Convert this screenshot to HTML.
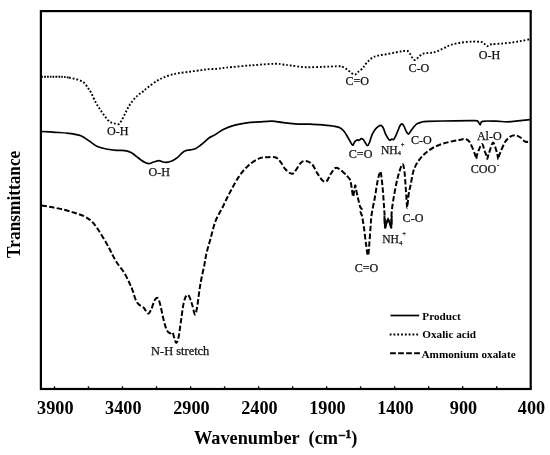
<!DOCTYPE html>
<html><head><meta charset="utf-8"><style>
html,body{margin:0;padding:0;background:#fff;}
svg{display:block;will-change:transform;font-family:"Liberation Serif",serif;}
.ax text{font-weight:bold;font-size:18.2px;text-anchor:middle;fill:#000;}
.lb text{font-size:12.1px;text-anchor:middle;fill:#111;stroke:#111;stroke-width:0.25px;}
.lb text.s{text-anchor:start;}
.lg text{font-weight:bold;font-size:11.2px;fill:#000;}
</style></head><body>
<svg width="550" height="455" viewBox="0 0 550 455">
<rect width="550" height="455" fill="#fff"/>
<g fill="none" stroke="#000" stroke-linejoin="round">
<path d="M41.5 76.8C42.9 76.8 46.6 76.7 50.0 76.7C53.4 76.7 58.8 76.7 62.0 76.8C65.2 76.9 67.8 77.4 69.0 77.5" stroke-width="1.9" stroke-dasharray="1.7 1.1"/>
<path d="M69.0 77.5C70.5 77.9 75.2 78.8 77.8 79.7C80.4 80.6 82.6 81.4 84.4 83.0C86.2 84.6 87.6 87.5 88.7 89.1C89.8 90.6 89.7 90.1 90.9 92.3C92.1 94.5 94.2 99.7 95.7 102.4C97.2 105.1 98.3 106.6 99.7 108.7C101.1 110.8 102.5 113.1 104.0 115.1C105.5 117.1 107.2 119.5 108.5 120.7C109.8 122.0 110.5 122.1 111.6 122.6C112.7 123.1 114.1 123.3 115.3 123.6C116.5 123.8 117.8 124.5 118.8 124.1C119.8 123.7 120.1 122.9 121.1 121.3C122.1 119.7 123.6 116.5 124.8 114.2C126.0 111.9 126.9 109.6 128.2 107.4C129.5 105.2 131.0 102.8 132.6 100.8C134.2 98.8 135.8 97.2 137.5 95.6C139.2 94.0 141.2 92.9 143.0 91.4C144.8 90.0 146.1 88.7 148.4 86.9C150.7 85.1 154.5 82.3 157.0 80.8C159.5 79.2 161.1 78.6 163.3 77.6C165.6 76.6 168.0 75.7 170.5 75.0C173.0 74.3 174.9 73.8 178.1 73.3C181.3 72.8 186.0 72.2 189.9 71.7C193.8 71.2 198.2 70.5 201.5 70.1C204.8 69.7 206.7 69.3 209.4 69.1C212.1 68.9 214.7 69.0 217.5 68.8C220.3 68.5 220.6 68.2 226.3 67.6C232.0 67.0 243.7 65.9 251.8 65.3C259.9 64.7 269.6 63.9 274.7 63.8C279.8 63.7 280.0 64.2 282.7 64.5C285.4 64.8 286.9 65.0 290.7 65.5C294.5 66.0 300.1 67.0 305.7 67.2C311.3 67.4 318.6 67.0 324.2 66.8C329.8 66.6 336.4 66.2 339.5 66.2C342.6 66.2 341.6 66.5 342.7 66.9C343.8 67.3 345.0 68.1 346.0 68.8C347.0 69.5 347.9 70.3 348.9 71.0C349.9 71.7 350.8 72.6 351.8 73.2C352.8 73.8 354.0 74.8 355.0 74.6C356.0 74.4 356.7 73.0 357.6 72.3C358.5 71.5 359.5 70.9 360.5 70.1C361.5 69.3 362.9 68.3 363.5 67.6C364.1 66.9 363.3 67.2 364.1 66.1C364.9 65.0 366.7 62.7 368.2 61.2C369.7 59.7 371.2 58.3 373.1 57.3C375.0 56.3 377.2 55.8 379.6 55.2C382.1 54.7 385.1 54.5 387.8 54.0C390.5 53.5 393.5 52.9 396.0 52.4C398.5 51.9 400.7 51.3 402.6 51.1C404.5 50.9 406.3 50.5 407.5 51.0C408.7 51.5 409.2 52.6 410.0 53.8C410.8 54.9 411.6 56.9 412.4 57.9C413.2 58.9 413.9 60.0 414.8 60.0C415.8 60.0 416.9 58.6 418.1 57.6C419.3 56.6 420.7 54.8 422.2 54.0C423.7 53.2 425.5 53.3 427.1 53.1C428.7 52.9 430.4 53.0 432.0 52.7C433.6 52.4 435.0 52.1 436.9 51.4C438.8 50.7 441.2 49.4 443.5 48.3C445.8 47.2 447.8 45.9 450.9 44.9C453.9 43.9 458.2 43.0 461.8 42.5C465.4 42.0 469.5 41.7 472.7 41.6C475.9 41.5 479.0 41.6 480.9 41.9C482.8 42.2 483.0 42.7 484.0 43.4C485.0 44.1 486.1 45.9 486.9 46.2C487.7 46.5 488.2 45.3 489.0 45.0C489.8 44.7 489.7 44.4 491.8 44.2C493.9 44.0 498.3 43.9 501.8 43.6C505.3 43.3 509.4 42.9 512.7 42.4C516.0 41.9 518.9 41.4 521.8 40.9C524.7 40.4 528.6 39.5 530.0 39.2" stroke-width="1.9" stroke-dasharray="1.8 1.95"/>
<path d="M41.5 131.5C43.8 131.6 50.9 132.0 55.4 132.3C59.9 132.6 64.0 132.7 68.2 133.3C72.5 133.9 77.3 134.5 80.9 135.8C84.5 137.2 87.0 139.6 89.8 141.4C92.5 143.2 94.7 145.2 97.4 146.5C100.2 147.8 103.1 148.4 106.3 149.0C109.5 149.6 114.2 150.1 116.5 150.3C118.8 150.5 118.3 150.3 120.0 150.4C121.7 150.5 124.6 150.5 126.5 150.9C128.4 151.3 129.8 151.9 131.5 152.8C133.2 153.7 134.8 155.2 136.4 156.4C138.0 157.6 139.7 159.1 141.3 160.2C142.9 161.3 144.8 162.4 146.2 163.0C147.6 163.6 148.1 163.7 149.5 163.5C150.9 163.3 152.8 162.3 154.4 161.8C156.0 161.3 157.4 160.7 158.8 160.7C160.2 160.7 161.3 161.5 162.6 161.8C163.9 162.1 165.0 162.5 166.6 162.3C168.2 162.1 170.6 161.5 172.4 160.7C174.2 159.9 175.7 159.0 177.3 157.7C178.9 156.4 180.8 154.0 182.2 152.8C183.6 151.6 184.1 151.2 185.5 150.7C186.9 150.2 188.8 150.2 190.4 149.9C192.0 149.6 193.7 149.4 195.3 148.7C196.9 148.0 198.6 146.7 200.2 145.5C201.8 144.3 203.5 142.8 205.1 141.4C206.7 140.0 208.6 138.3 210.0 137.3C211.4 136.3 211.3 136.9 213.6 135.6C215.9 134.3 220.4 131.0 223.8 129.3C227.2 127.6 230.2 126.5 234.0 125.4C237.8 124.3 242.5 123.5 246.7 122.9C250.9 122.3 255.2 122.2 259.4 121.9C263.6 121.6 268.3 121.0 272.1 121.1C275.9 121.2 278.5 122.0 282.3 122.4C286.1 122.9 290.4 123.5 295.0 123.8C299.6 124.1 305.4 124.0 310.0 124.2C314.6 124.4 318.5 124.5 322.7 124.9C326.9 125.3 332.1 125.9 335.0 126.4C337.9 126.9 338.4 126.9 339.9 127.7C341.4 128.5 342.6 129.6 344.0 131.3C345.4 133.0 346.9 135.8 348.1 137.8C349.3 139.9 350.6 142.4 351.4 143.6C352.2 144.8 352.5 145.5 353.0 145.2C353.5 144.9 353.9 142.8 354.6 141.9C355.3 141.0 356.3 140.3 357.1 140.0C357.9 139.7 358.5 140.5 359.2 140.3C359.9 140.1 360.5 138.7 361.2 138.6C361.9 138.5 362.5 138.8 363.2 139.5C363.9 140.2 364.6 141.7 365.3 142.7C366.0 143.7 366.7 145.7 367.4 145.7C368.1 145.7 368.7 144.4 369.4 142.7C370.1 141.0 370.9 137.6 371.8 135.4C372.8 133.2 374.0 131.1 375.1 129.6C376.2 128.1 377.4 127.1 378.4 126.4C379.4 125.7 380.5 125.2 381.3 125.5C382.1 125.8 382.6 126.6 383.3 128.0C384.0 129.4 384.7 132.1 385.4 133.7C386.1 135.3 387.0 136.7 387.7 137.8C388.4 138.9 389.1 140.1 389.8 140.3C390.5 140.5 391.2 139.2 391.8 139.1C392.4 139.0 393.0 140.0 393.6 139.5C394.2 139.0 394.9 137.7 395.6 136.2C396.3 134.7 397.2 132.3 398.0 130.5C398.8 128.7 399.4 126.6 400.1 125.5C400.8 124.4 401.4 123.8 402.1 123.9C402.8 124.1 403.4 125.2 404.1 126.4C404.8 127.6 405.5 130.0 406.2 131.3C406.9 132.6 407.6 134.2 408.3 134.2C409.0 134.2 409.7 132.5 410.6 131.3C411.5 130.1 412.6 128.4 413.6 127.2C414.6 126.0 415.6 124.7 416.8 123.9C418.0 123.1 419.1 122.7 420.9 122.3C422.6 121.9 421.7 121.7 427.3 121.4C432.9 121.2 446.6 120.9 454.5 120.8C462.4 120.7 471.1 120.6 475.0 120.7C478.9 120.8 477.1 120.8 478.0 121.5C478.9 122.2 479.4 124.8 480.2 124.8C480.9 124.8 479.9 121.9 482.5 121.3C485.1 120.7 491.9 121.1 496.0 121.2C500.1 121.3 503.3 121.8 507.0 121.8C510.7 121.8 514.2 121.3 518.0 120.9C521.8 120.5 528.0 119.8 530.0 119.6" stroke-width="1.7"/>
<path d="M41.5 205.5C43.3 205.8 48.7 206.6 52.5 207.3C56.3 208.0 60.6 208.9 64.2 209.8C67.9 210.7 71.0 211.6 74.4 212.7C77.8 213.8 81.6 214.9 84.5 216.4C87.4 217.9 89.6 219.4 91.8 221.5C94.0 223.6 95.6 225.9 97.6 228.7C99.5 231.5 101.5 234.9 103.5 238.2C105.5 241.5 107.7 245.5 109.3 248.4C110.9 251.3 111.5 253.0 112.9 255.6C114.3 258.2 115.9 261.2 117.8 264.0C119.7 266.8 122.2 269.4 124.1 272.5C126.0 275.6 127.8 279.6 129.2 282.5C130.6 285.4 131.3 286.9 132.4 289.8C133.5 292.7 134.5 297.2 135.6 299.6C136.7 302.1 137.5 303.1 138.9 304.5C140.3 305.9 142.3 306.3 143.8 307.8C145.3 309.3 146.7 313.3 147.9 313.6C149.1 313.9 150.1 311.7 151.2 309.5C152.3 307.3 153.4 302.4 154.5 300.5C155.6 298.6 156.8 297.3 157.7 298.0C158.6 298.7 159.2 300.9 160.2 304.5C161.2 308.1 162.4 315.1 163.5 319.3C164.6 323.5 165.6 327.6 166.7 329.9C167.8 332.2 169.0 332.8 170.0 333.2C171.0 333.6 171.8 331.7 172.5 332.4C173.2 333.1 173.5 335.5 174.1 337.3C174.7 339.1 175.4 343.0 176.2 343.0C176.9 343.0 177.8 341.2 178.6 337.3C179.4 333.4 180.3 325.0 181.2 319.3C182.0 313.6 182.8 306.9 183.7 302.9C184.6 298.9 185.5 296.6 186.4 295.5C187.3 294.4 188.2 294.9 189.2 296.4C190.1 297.9 191.1 301.5 192.1 304.5C193.1 307.5 194.1 313.8 194.9 314.4C195.7 314.9 196.2 311.9 197.0 307.8C197.8 303.7 198.8 294.6 199.5 289.8C200.2 285.0 200.5 283.3 201.3 279.2C202.1 275.1 203.4 269.5 204.3 265.2C205.2 260.9 205.5 257.5 206.5 253.2C207.5 248.9 208.9 244.5 210.4 239.2C211.9 233.9 213.3 226.9 215.4 221.4C217.5 215.9 220.6 211.3 223.1 206.2C225.6 201.1 227.9 196.0 230.7 190.9C233.4 185.8 236.6 179.8 239.6 175.6C242.6 171.3 245.3 168.2 248.5 165.4C251.7 162.6 255.7 159.9 258.7 158.6C261.7 157.2 263.6 157.5 266.3 157.3C269.1 157.1 272.9 156.6 275.2 157.3C277.5 158.0 278.6 159.6 280.3 161.6C282.0 163.6 283.5 167.3 285.4 169.3C287.3 171.3 290.1 173.6 291.8 173.8C293.5 174.0 294.1 172.3 295.6 170.5C297.1 168.7 299.0 164.5 300.7 162.9C302.4 161.3 303.9 160.7 305.8 160.9C307.7 161.1 310.2 162.2 312.1 164.2C314.0 166.2 315.5 170.4 317.2 173.1C318.9 175.8 320.8 178.8 322.3 180.2C323.9 181.6 325.1 182.3 326.5 181.4C327.9 180.5 328.9 176.7 330.4 174.5C331.9 172.3 333.8 168.8 335.4 168.0C337.0 167.2 338.5 168.6 340.0 169.5C341.5 170.4 343.2 172.2 344.4 173.3C345.6 174.4 346.1 175.0 347.0 176.0C347.9 177.0 349.2 178.1 349.8 179.3C350.4 180.5 350.5 181.3 350.9 183.1C351.3 184.9 351.6 187.7 352.0 190.0C352.4 192.3 352.7 196.5 353.1 196.7C353.5 196.9 353.8 192.9 354.2 191.0C354.6 189.1 354.9 185.1 355.3 185.3C355.7 185.5 356.2 189.8 356.6 192.0C357.1 194.2 357.6 196.6 358.0 198.4C358.4 200.2 358.7 201.3 359.1 202.7C359.5 204.1 359.7 205.8 360.2 207.0C360.7 208.2 362.1 209.0 362.2 209.8C362.3 210.6 360.6 211.0 360.6 212.0C360.6 213.0 361.4 213.3 362.0 216.0C362.6 218.7 363.3 223.3 364.0 228.0C364.7 232.7 365.3 239.4 366.0 244.0C366.7 248.6 367.4 255.5 368.0 255.5C368.6 255.5 368.9 248.6 369.3 244.0C369.7 239.4 370.1 232.9 370.5 228.0C370.9 223.1 370.9 219.8 371.6 214.7C372.3 209.6 373.9 202.9 374.9 197.3C375.9 191.7 376.8 185.0 377.6 180.9C378.4 176.8 379.3 174.2 379.8 172.7C380.3 171.2 380.3 171.2 380.6 171.8C380.9 172.4 381.1 174.1 381.4 176.5C381.7 178.9 382.1 182.4 382.5 186.4C382.9 190.4 383.3 196.0 383.6 200.5C383.9 205.0 384.3 209.1 384.5 213.6C384.7 218.1 384.7 225.8 385.0 227.4C385.3 229.0 386.0 224.4 386.5 223.0C387.0 221.6 387.6 219.2 388.1 219.2C388.7 219.2 389.2 221.6 389.8 223.0C390.4 224.4 391.1 229.0 391.4 227.4C391.7 225.8 391.3 218.3 391.6 213.6C391.9 208.9 392.6 204.3 393.4 199.4C394.2 194.5 395.3 188.5 396.2 184.2C397.1 179.8 397.9 176.6 398.9 173.3C399.9 170.0 401.5 164.6 402.4 164.2C403.3 163.8 403.9 167.4 404.4 171.0C404.9 174.6 405.2 181.2 405.6 186.0C406.0 190.8 406.3 196.4 406.6 200.0C406.9 203.6 406.9 208.5 407.2 207.5C407.5 206.5 408.1 197.9 408.7 194.0C409.3 190.1 410.2 187.4 410.9 183.8C411.6 180.2 412.2 175.3 413.1 172.2C414.0 169.0 414.8 167.2 416.0 164.9C417.2 162.6 418.7 160.5 420.4 158.4C422.1 156.3 424.0 154.3 426.2 152.5C428.4 150.7 430.8 148.9 433.5 147.5C436.2 146.1 439.3 144.8 442.2 143.8C445.1 142.8 448.0 142.2 450.9 141.6C453.8 140.9 457.2 140.3 459.6 139.9C462.0 139.5 463.6 138.8 465.2 139.1C466.8 139.4 468.2 140.0 469.5 141.8C470.8 143.6 472.2 147.6 473.2 149.8C474.1 152.0 474.7 153.5 475.2 155.0C475.7 156.5 475.8 158.8 476.1 158.8C476.4 158.8 476.6 156.2 477.0 155.0C477.4 153.8 477.5 153.1 478.3 151.3C479.1 149.5 480.8 144.0 481.9 144.0C483.0 144.0 484.1 149.4 484.8 151.3C485.6 153.2 486.0 154.2 486.4 155.5C486.8 156.8 487.0 158.9 487.3 158.9C487.6 158.9 487.8 156.8 488.2 155.5C488.6 154.2 488.8 153.5 489.6 151.3C490.4 149.1 492.0 142.5 493.1 142.5C494.2 142.5 495.8 149.1 496.5 151.3C497.2 153.5 497.3 154.2 497.6 155.5C497.9 156.8 498.0 159.3 498.3 159.3C498.6 159.3 498.8 156.8 499.2 155.5C499.6 154.2 499.8 153.6 500.8 151.3C501.8 149.0 503.6 144.2 505.2 141.8C506.8 139.4 508.6 137.8 510.3 136.7C512.0 135.6 513.7 135.2 515.4 135.3C517.1 135.4 518.9 136.5 520.5 137.5C522.1 138.5 523.2 140.7 524.8 141.5C526.4 142.3 529.1 142.0 530.0 142.1" stroke-width="2" stroke-dasharray="5.4 2.3"/>
<path d="M384.4 216 L385 226.8 L388.1 219.4 L391.3 226.8 L391.7 216" stroke-width="1.9" stroke-linejoin="miter"/>
</g>
<rect x="40.9" y="11.1" width="489.8" height="377.9" fill="none" stroke="#000" stroke-width="2.2"/>
<g stroke="#000" stroke-width="1.4"><line x1="54.5" y1="389.0" x2="54.5" y2="386.3"/><line x1="88.5" y1="389.0" x2="88.5" y2="386.3"/><line x1="122.5" y1="389.0" x2="122.5" y2="386.3"/><line x1="156.5" y1="389.0" x2="156.5" y2="386.3"/><line x1="190.6" y1="389.0" x2="190.6" y2="386.3"/><line x1="224.6" y1="389.0" x2="224.6" y2="386.3"/><line x1="258.6" y1="389.0" x2="258.6" y2="386.3"/><line x1="292.6" y1="389.0" x2="292.6" y2="386.3"/><line x1="326.6" y1="389.0" x2="326.6" y2="386.3"/><line x1="360.6" y1="389.0" x2="360.6" y2="386.3"/><line x1="394.6" y1="389.0" x2="394.6" y2="386.3"/><line x1="428.7" y1="389.0" x2="428.7" y2="386.3"/><line x1="462.7" y1="389.0" x2="462.7" y2="386.3"/><line x1="496.7" y1="389.0" x2="496.7" y2="386.3"/><line x1="530.7" y1="389.0" x2="530.7" y2="386.3"/></g>
<g class="ax"><text transform="translate(55.3 414) scale(1 1)">3900</text><text transform="translate(123.3 414) scale(1 1)">3400</text><text transform="translate(191.4 414) scale(1 1)">2900</text><text transform="translate(259.4 414) scale(1 1)">2400</text><text transform="translate(327.4 414) scale(1 1)">1900</text><text transform="translate(395.4 414) scale(1 1)">1400</text><text transform="translate(463.5 414) scale(1 1)">900</text><text transform="translate(531.5 414) scale(1 1)">400</text></g>
<text transform="translate(0 443.9) scale(1 1)" font-weight="bold" font-size="18.3"><tspan x="194" y="0">Wavenumber</tspan><tspan x="308.6" y="0">(cm</tspan><tspan x="338.9" y="-6" font-size="12" stroke="#000" stroke-width="0.4">–<tspan dx="0.4">1</tspan></tspan><tspan x="351.2" y="0">)</tspan></text>
<text transform="translate(19.9,257.9) rotate(-90)" font-weight="bold" font-size="17.8" textLength="107.2" lengthAdjust="spacingAndGlyphs">Transmittance</text>
<g class="lb">
<text transform="translate(117.8 135.4) scale(1 1)">O-H</text>
<text transform="translate(159.3 175.7) scale(1 1)">O-H</text>
<text transform="translate(180.2 355.1) scale(1 1)"><tspan font-size="12.4">N-H stretch</tspan></text>
<text transform="translate(357.2 85.2) scale(1 1)">C=O</text>
<text transform="translate(418.8 71.7) scale(1 1)">C-O</text>
<text transform="translate(489.5 58.9) scale(1 1)">O-H</text>
<text transform="translate(360.6 158.0) scale(1 1)">C=O</text>
<text transform="translate(421.3 143.6) scale(1 1)">C-O</text>
<text class="s" transform="translate(380.9 153.6) scale(1 1)"><tspan font-size="11.6">NH</tspan><tspan font-size="6.2" dy="1.3" dx="0.2">4</tspan><tspan font-size="6.6" dy="-8.3" dx="-0.1">+</tspan></text>
<text transform="translate(489.3 139.6) scale(1 1)">Al-O</text>
<text class="s" transform="translate(470.7 173.4) scale(1 1)">COO<tspan font-size="6.5" dy="-6.5" dx="0.8">-</tspan></text>
<text transform="translate(413 221.6) scale(1 1)">C-O</text>
<text class="s" transform="translate(382.2 243.2) scale(1 1)"><tspan font-size="11.6">NH</tspan><tspan font-size="6.2" dy="1.3" dx="0.2">4</tspan><tspan font-size="6.6" dy="-8.3" dx="-0.1">+</tspan></text>
<text transform="translate(366.5 272.0) scale(1 1)">C=O</text>
</g>
<g class="lg">
<line x1="390.5" y1="315.5" x2="419.2" y2="315.5" stroke="#000" stroke-width="1.7"/>
<text transform="translate(422.3 319.6) scale(1 1)">Product</text>
<line x1="389.7" y1="334.5" x2="418.5" y2="334.5" stroke="#000" stroke-width="2" stroke-dasharray="1.8 2"/>
<text transform="translate(422.3 338.2) scale(1 1)">Oxalic acid</text>
<line x1="390.1" y1="353.3" x2="419.9" y2="353.3" stroke="#000" stroke-width="1.9" stroke-dasharray="5.8 2.2"/>
<text transform="translate(421.5 357.6) scale(1 1)">Ammonium oxalate</text>
</g>
</svg>
</body></html>
